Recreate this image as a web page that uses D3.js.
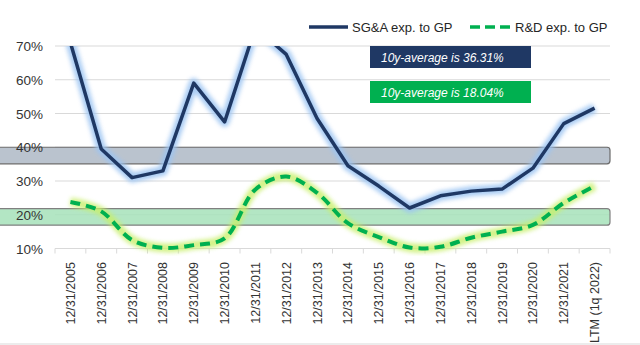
<!DOCTYPE html>
<html lang="en">
<head>
    <meta charset="UTF-8">
    <title>SG&A and R&D to GP</title>
    <script src="https://cdnjs.cloudflare.com/ajax/libs/d3/7.8.5/d3.min.js"></script>
    <style>
        body { margin: 0; background: #ffffff; }
        text { font-family: "Liberation Sans", Arial, sans-serif; }
    </style>
</head>
<body>
    <script>
        // Categories along the x axis
        var categories = ["12/31/2005","12/31/2006","12/31/2007","12/31/2008","12/31/2009","12/31/2010",
            "12/31/2011","12/31/2012","12/31/2013","12/31/2014","12/31/2015","12/31/2016","12/31/2017",
            "12/31/2018","12/31/2019","12/31/2020","12/31/2021","LTM (1q 2022)"];
        // SG&A expenses to gross profit, %
        var sgaValues = [71, 39.5, 31, 33, 59, 47.5, 75.5, 67.5, 48.5, 34.5, 28.5, 22, 25.6, 27, 27.6, 33.8, 47, 51.6];
        // R&D expenses to gross profit, %
        var rdValues = [23.8, 21, 12.5, 10.2, 11, 13, 27.5, 31.3, 26.5, 17.5, 13.4, 10.3, 10.5, 13.2, 15, 17, 23.5, 28.5];
        // y ticks
        var yTicks = [10, 20, 30, 40, 50, 60, 70];
        // 10y-average bands (low, high)
        var sgaBand = [35.1, 40];
        var rdBand = [16.9, 21.8];
        var avgLabels = ["10y-average is 36.31%", "10y-average is 18.04%"];
        var seriesNames = ["SG&A exp. to GP", "R&D exp. to GP"];

        var W = 640, H = 345;
        var navy = "#1f3864", green = "#00b050";

        var svg = d3.select("body").append("svg")
            .attr("width", W).attr("height", H);

        var defs = svg.append("defs");
        defs.append("filter").attr("id", "glow")
            .attr("x", "-10%").attr("y", "-10%").attr("width", "120%").attr("height", "120%")
            .append("feGaussianBlur").attr("stdDeviation", 2.2);
        defs.append("clipPath").attr("id", "plot")
            .append("rect").attr("x", 0).attr("y", 46).attr("width", W).attr("height", 210);

        var xScale = d3.scaleBand().domain(categories).range([55, 610]);
        var yScale = d3.scaleLinear().domain([10, 70]).range([248.5, 46]);
        var cx = function(i){ return xScale(categories[i]) + xScale.bandwidth() / 2; };

        // gridlines
        svg.append("g").selectAll("line").data(yTicks).enter().append("line")
            .attr("x1", 55).attr("x2", 610)
            .attr("y1", function(d){ return yScale(d); })
            .attr("y2", function(d){ return yScale(d); })
            .attr("stroke", "#d9d9d9").attr("stroke-width", 1);

        // x tick marks
        var xb = categories.map(function(c){ return xScale(c); }).concat([610]);
        svg.append("g").selectAll("line").data(xb).enter().append("line")
            .attr("x1", function(d){ return d; }).attr("x2", function(d){ return d; })
            .attr("y1", yScale(10)).attr("y2", yScale(10) + 5)
            .attr("stroke", "#d9d9d9");

        // average bands
        function band(b, fill, stroke) {
            svg.append("rect")
                .attr("x", -6).attr("width", 616)
                .attr("y", yScale(b[1])).attr("height", yScale(b[0]) - yScale(b[1]))
                .attr("rx", 3)
                .attr("fill", fill).attr("fill-opacity", 0.85)
                .attr("stroke", stroke).attr("stroke-width", 1.2);
        }
        band(sgaBand, "#aeb8c5", "#6b6b6b");
        band(rdBand, "#a6e2ba", "#808080");

        // y labels
        svg.append("g").selectAll("text").data(yTicks).enter().append("text")
            .attr("x", 43).attr("y", function(d){ return yScale(d) + 5; })
            .attr("text-anchor", "end").attr("font-size", 13.5).attr("fill", "#333333")
            .text(function(d){ return d + "%"; });

        // x labels
        svg.append("g").selectAll("text").data(categories).enter().append("text")
            .attr("transform", function(d, i){ return "translate(" + (cx(i) + 4.5) + ",262) rotate(-90)"; })
            .attr("text-anchor", "end").attr("font-size", 12.5).attr("fill", "#333333")
            .text(function(d){ return d; });

        var plot = svg.append("g").attr("clip-path", "url(#plot)");

        var lineSga = d3.line().x(function(d, i){ return cx(i); }).y(function(d){ return yScale(d); });
        var lineRd = d3.line().x(function(d, i){ return cx(i); }).y(function(d){ return yScale(d); })
            .curve(d3.curveCatmullRom);

        // R&D glow + line
        plot.append("path").attr("d", lineRd(rdValues)).attr("fill", "none")
            .attr("stroke", "#c8ef6a").attr("stroke-width", 9).attr("opacity", 0.8)
            .attr("filter", "url(#glow)");
        plot.append("path").attr("d", lineRd(rdValues)).attr("fill", "none")
            .attr("stroke", green).attr("stroke-width", 4).attr("stroke-dasharray", "10,6");

        // SG&A glow + line
        plot.append("path").attr("d", lineSga(sgaValues)).attr("fill", "none")
            .attr("stroke", "#9cc4f2").attr("stroke-width", 10).attr("opacity", 0.85)
            .attr("stroke-linejoin", "round").attr("filter", "url(#glow)");
        plot.append("path").attr("d", lineSga(sgaValues)).attr("fill", "none")
            .attr("stroke", navy).attr("stroke-width", 3.5).attr("stroke-linejoin", "round");

        // average boxes
        var boxes = [{y: 46, fill: navy}, {y: 81, fill: green}];
        boxes.forEach(function(b, i){
            svg.append("rect").attr("x", 370).attr("y", b.y).attr("width", 161).attr("height", 22)
                .attr("fill", b.fill);
            svg.append("text").attr("x", 381).attr("y", b.y + 15.5)
                .attr("font-size", 12).attr("font-style", "italic").attr("fill", "#ffffff")
                .text(avgLabels[i]);
        });

        // legend
        var lg = svg.append("g");
        lg.append("line").attr("x1", 309).attr("x2", 348).attr("y1", 27).attr("y2", 27)
            .attr("stroke", navy).attr("stroke-width", 3.5);
        lg.append("text").attr("x", 352).attr("y", 31.5).attr("font-size", 13).attr("fill", "#262626")
            .text(seriesNames[0]);
        lg.append("line").attr("x1", 470).attr("x2", 512).attr("y1", 27).attr("y2", 27)
            .attr("stroke", green).attr("stroke-width", 3.5).attr("stroke-dasharray", "10,5");
        lg.append("text").attr("x", 515).attr("y", 31.5).attr("font-size", 13).attr("fill", "#262626")
            .text(seriesNames[1]);

        // bottom border
        svg.append("line").attr("x1", 0).attr("x2", W).attr("y1", H - 1).attr("y2", H - 1)
            .attr("stroke", "#d9d9d9");
    </script>
</body>
</html>
